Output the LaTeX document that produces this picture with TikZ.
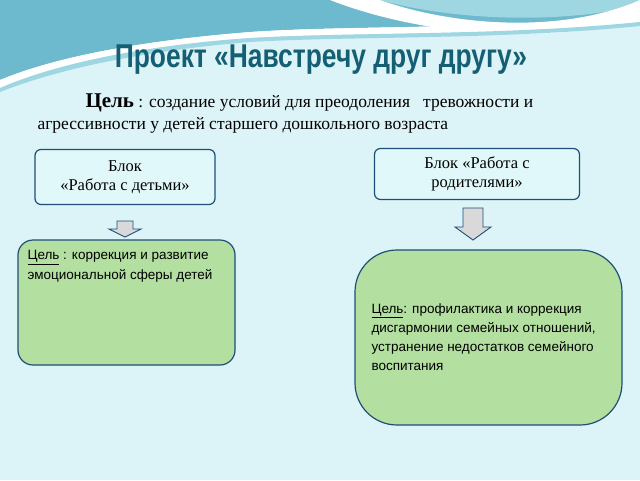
\documentclass[tikz,border=0pt]{standalone}
\usepackage{fontspec}
\setmainfont{Liberation Serif}
\newfontfamily\sans{Liberation Sans}
\definecolor{bg}{HTML}{DCF3F8}
\definecolor{wave}{HTML}{6DB9CE}
\definecolor{wave2}{HTML}{9ED6E2}
\definecolor{ttl}{HTML}{145F73}
\definecolor{bord}{HTML}{1F4E79}
\definecolor{grn}{HTML}{B3DFA0}
\definecolor{cyanbox}{HTML}{E0F8FA}
\tikzset{
 blockbox/.style={draw=bord,line width=1.2pt,fill=cyanbox,rounded corners=6pt,align=center,font=\fontsize{16.5}{19}\selectfont},
 greenbox/.style={draw=bord,line width=1.2pt,fill=grn},
 downarrow/.style={draw=bord,fill=gray!30,line width=0.9pt,line join=miter}
}
\begin{document}
\begin{tikzpicture}[x=1pt,y=-1pt]
\useasboundingbox (0,0) rectangle (640,480);
\fill[bg] (0,0) rectangle (640,480);
% waves
\fill[wave] (0,0) -- (640,0) -- (640,15) .. controls (500,30) and (350,25) .. (250,32) .. controls (150,40) and (60,55) .. (0,80) -- cycle;
\fill[wave2] (380,0) .. controls (450,20) and (560,25) .. (640,5) -- (640,0) -- cycle;
\fill[white] (700,0) -- (640,0) .. controls (560,35) and (450,25) .. (380,0) -- (330,0) .. controls (420,35) and (540,45) .. (640,20) -- cycle;
\fill[white] (0,80) .. controls (60,55) and (150,40) .. (250,32) .. controls (350,25) and (500,30) .. (640,15) -- (640,22) .. controls (500,36) and (350,32) .. (250,38) .. controls (150,45) and (60,62) .. (0,88) -- cycle;
\fill[wave2] (0,88) .. controls (60,62) and (150,45) .. (250,38) .. controls (350,32) and (500,36) .. (640,22) -- (640,26) .. controls (500,40) and (350,36) .. (250,42) .. controls (150,50) and (60,68) .. (0,92) -- cycle;
% title
\node (title) at (321,60) {\sans\bfseries\color{ttl}\scalebox{0.8}[1]{\fontsize{33}{36}\selectfont Проект «Навстречу друг другу»}};
\node[anchor=west,font=\fontsize{17.5}{22}\selectfont,align=left] (goal) at (34,114) {\hspace*{48pt}{\fontsize{21}{21}\selectfont\bfseries Цель} : создание условий для преодоления \ \ тревожности и\\агрессивности у детей старшего дошкольного возраста};
% blocks
\node[blockbox,minimum width=180pt,minimum height=55pt] (b1) at (125,177) {Блок\\ «Работа с детьми»};
\node[blockbox,minimum width=205pt,minimum height=51pt] (b2) at (477,174) {Блок «Работа с\\родителями»};
% arrows
\draw[downarrow] (117,221) -- (133,221) -- (133,229) -- (141,229) -- (125,237) -- (109,229) -- (117,229) -- cycle;
\draw[downarrow] (463,208) -- (483,208) -- (483,227) -- (491,227) -- (473,240) -- (455,227) -- (463,227) -- cycle;
% green boxes
\draw[greenbox,rounded corners=15pt] (18,240) rectangle (235,365);
\node[anchor=north west,align=left,font=\sans\fontsize{13.5}{20}\selectfont] (g1) at (24,247) {\underline{Цель} : коррекция и развитие\\эмоциональной сферы детей};
\draw[greenbox,rounded corners=42pt] (355,250) rectangle (622,425);
\node[anchor=north west,align=left,font=\sans\fontsize{13.5}{19}\selectfont] (g2) at (368,300) {\underline{Цель}: профилактика и коррекция\\дисгармонии семейных отношений,\\устранение недостатков семейного\\воспитания};
\end{tikzpicture}
\end{document}
